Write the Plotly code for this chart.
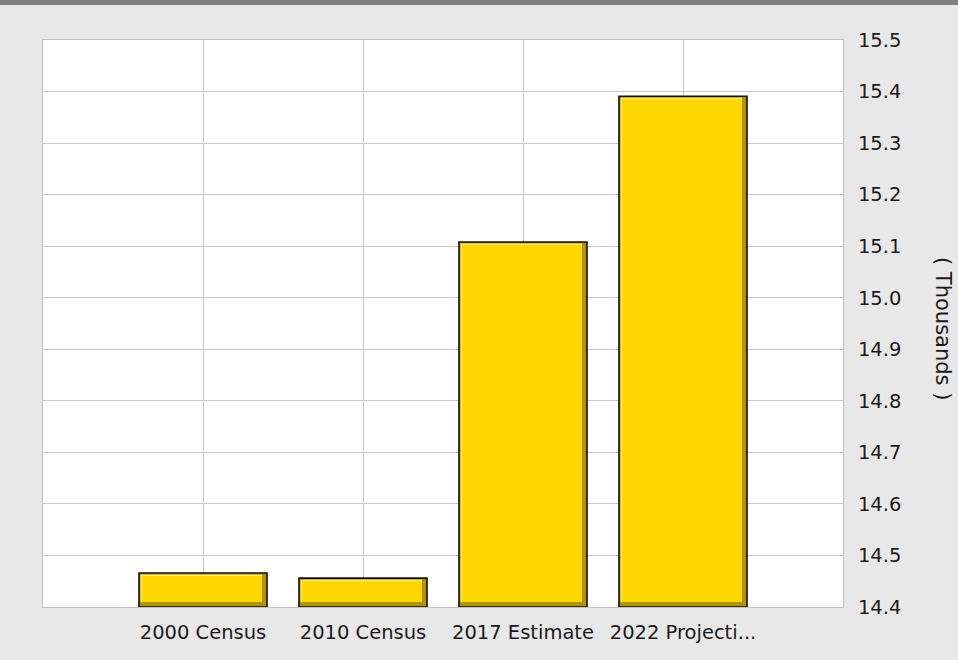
import plotly.graph_objects as go

categories = ["2000 Census", "2010 Census", "2017 Estimate", "2022 Projecti..."]
values = [14.466, 14.456, 15.108, 15.391]  # thousands
y_min, y_max = 14.4, 15.5

# geometry helpers (pixel -> data) for the bevel effect
plot_w_px, plot_h_px = 800, 567
x_units = 5.0
px_x = x_units / plot_w_px
px_y = (y_max - y_min) / plot_h_px
bar_w = 0.8

fig = go.Figure()

# dark shade (right/bottom bevel) with black outline
fig.add_trace(go.Bar(
    x=categories, y=[v - y_min for v in values], base=y_min,
    width=bar_w, marker=dict(color="#B09300", line=dict(color="#111111", width=1.6)),
    hoverinfo="skip", showlegend=False,
))
# light highlight (top/left bevel)
hl_l, hl_r, hl_b, hl_t = 1.5, 5.0, 5.0, 1.5
fig.add_trace(go.Bar(
    x=categories,
    y=[(v - hl_t * px_y) - (y_min + hl_b * px_y) for v in values],
    base=y_min + hl_b * px_y,
    width=bar_w - (hl_l + hl_r) * px_x,
    offset=-bar_w / 2 + hl_l * px_x,
    marker=dict(color="#FFEA6A", line=dict(width=0)),
    hoverinfo="skip", showlegend=False,
))
# main gold face
mf_l, mf_r, mf_b, mf_t = 3.0, 5.0, 5.0, 3.0
fig.add_trace(go.Bar(
    x=categories,
    y=[(v - mf_t * px_y) - (y_min + mf_b * px_y) for v in values],
    base=y_min + mf_b * px_y,
    width=bar_w - (mf_l + mf_r) * px_x,
    offset=-bar_w / 2 + mf_l * px_x,
    marker=dict(color="#FFD700", line=dict(width=0)),
    hovertemplate="%{x}<extra></extra>", showlegend=False,
))

font_family = "Verdana, DejaVu Sans, sans-serif"
fsize = 19.5

fig.update_layout(
    width=958, height=660,
    margin=dict(l=43, r=115, t=40, b=53),
    paper_bgcolor="#E8E8E8",
    plot_bgcolor="#FFFFFF",
    barmode="overlay",
    bargap=0.2,
    font=dict(family=font_family, size=fsize, color="#1A1A1A"),
    xaxis=dict(
        type="category", range=[-1, 4],
        showgrid=True, gridcolor="#C8C8C8", gridwidth=1,
        showline=True, linecolor="#C0C0C0", linewidth=1, mirror=True,
        ticks="", tickfont=dict(size=fsize, color="#1A1A1A"),
        ticklabelstandoff=8,
        zeroline=False,
    ),
    yaxis=dict(
        side="right", range=[y_min, y_max], dtick=0.1, tick0=14.4,
        tickformat=".1f",
        showgrid=True, gridcolor="#C8C8C8", gridwidth=1,
        showline=True, linecolor="#C0C0C0", linewidth=1, mirror=True,
        ticks="", tickfont=dict(size=fsize, color="#1A1A1A"),
        ticklabelstandoff=10,
        zeroline=False,
    ),
    shapes=[dict(
        type="rect", xref="paper", yref="paper",
        x0=-43 / 800, x1=1 + 115 / 800,
        y0=1 + 35 / 567, y1=1 + 40 / 567,
        fillcolor="#7F7F7F", line=dict(width=0), layer="above",
    )],
    annotations=[dict(
        text="( Thousands )", textangle=90, showarrow=False,
        xref="paper", yref="paper", x=(943 - 43) / 800, y=(607 - 328) / 567,
        xanchor="center", yanchor="middle",
        font=dict(family=font_family, size=21, color="#1A1A1A"),
    )],
)

fig.write_html(
    "out.html",
    config={"displayModeBar": False},
    post_script="document.body.style.margin='0';document.body.style.padding='0';"
                "document.body.style.background='#E8E8E8';",
)
